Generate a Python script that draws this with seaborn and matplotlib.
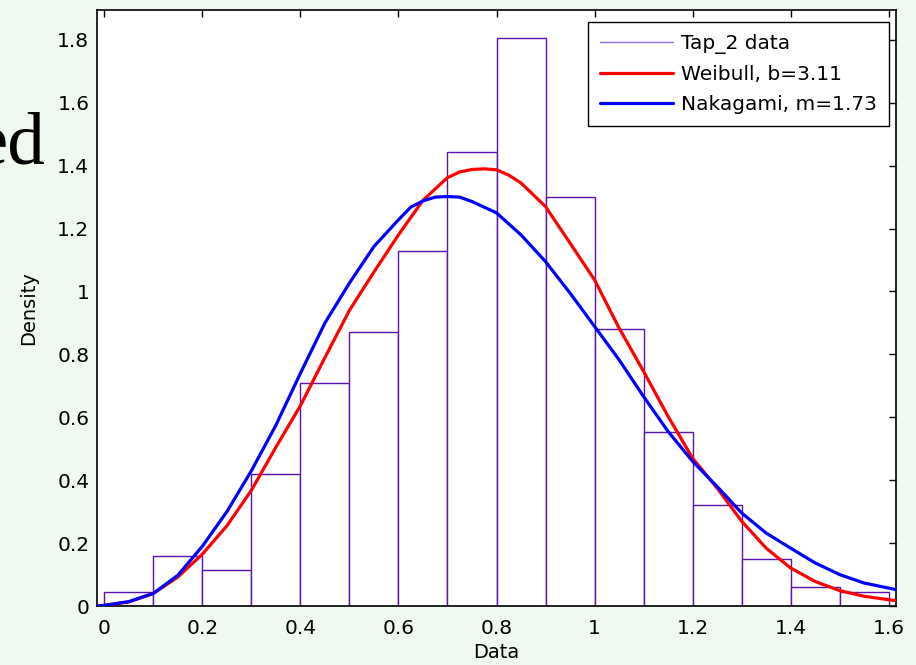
import matplotlib
matplotlib.use("Agg")
import matplotlib.pyplot as plt
import seaborn as sns
import numpy as np
import pandas as pd
from matplotlib.lines import Line2D

# ---- data ----
bin_edges = [0.0, 0.1, 0.2, 0.3, 0.4, 0.5, 0.6, 0.7, 0.8, 0.9, 1.0, 1.1, 1.2, 1.3, 1.4, 1.5, 1.6]
bin_heights = [0.043, 0.160, 0.116, 0.420, 0.709, 0.870, 1.129, 1.445, 1.806, 1.301,
               0.880, 0.553, 0.321, 0.149, 0.060, 0.043]

weibull_x = [-0.015, 0.0, 0.05, 0.1, 0.15, 0.2, 0.25, 0.3, 0.35, 0.4, 0.45, 0.5, 0.55, 0.6,
             0.65, 0.7, 0.725, 0.75, 0.775, 0.8, 0.825, 0.85, 0.9, 0.95, 1.0, 1.05, 1.1, 1.15,
             1.2, 1.25, 1.3, 1.35, 1.4, 1.45, 1.5, 1.55, 1.6, 1.615]
weibull_y = [0.0, 0.002, 0.013, 0.040, 0.092, 0.165, 0.255, 0.368, 0.505, 0.637, 0.790, 0.940,
             1.062, 1.180, 1.290, 1.362, 1.380, 1.388, 1.390, 1.387, 1.370, 1.345, 1.270, 1.154,
             1.037, 0.884, 0.746, 0.603, 0.470, 0.375, 0.270, 0.184, 0.121, 0.078, 0.049, 0.031,
             0.020, 0.017]

nakagami_x = [-0.015, 0.0, 0.05, 0.1, 0.15, 0.2, 0.25, 0.3, 0.35, 0.4, 0.45, 0.5, 0.55, 0.6,
              0.625, 0.65, 0.675, 0.7, 0.725, 0.75, 0.8, 0.85, 0.9, 0.95, 1.0, 1.05, 1.1, 1.15,
              1.2, 1.25, 1.3, 1.35, 1.4, 1.45, 1.5, 1.55, 1.6, 1.615]
nakagami_y = [0.0, 0.002, 0.014, 0.040, 0.098, 0.190, 0.300, 0.430, 0.575, 0.740, 0.900, 1.027,
              1.143, 1.228, 1.268, 1.288, 1.300, 1.302, 1.300, 1.286, 1.250, 1.180, 1.095, 0.995,
              0.889, 0.783, 0.666, 0.555, 0.460, 0.380, 0.296, 0.232, 0.184, 0.137, 0.100, 0.073,
              0.057, 0.052]

x_ticks = [0, 0.2, 0.4, 0.6, 0.8, 1.0, 1.2, 1.4, 1.6]
x_tick_labels = ["0", "0.2", "0.4", "0.6", "0.8", "1", "1.2", "1.4", "1.6"]
y_ticks = [0, 0.2, 0.4, 0.6, 0.8, 1.0, 1.2, 1.4, 1.6, 1.8]
y_tick_labels = ["0", "0.2", "0.4", "0.6", "0.8", "1", "1.2", "1.4", "1.6", "1.8"]

legend_labels = ["Tap_2 data", "Weibull, b=3.11", "Nakagami, m=1.73"]

# ---- style ----
sns.set_style("white")
plt.rcParams["font.family"] = ["DejaVu Sans"]
plt.rcParams["text.color"] = "black"
plt.rcParams["axes.labelcolor"] = "black"
plt.rcParams["xtick.color"] = "black"
plt.rcParams["ytick.color"] = "black"

W, H = 916, 665
bg = "#EFF9EF"
bar_edge = "#5A12B0"
fig = plt.figure(figsize=(W / 100, H / 100), dpi=100, facecolor=bg)
ax = fig.add_axes([97 / W, 1 - 606 / H, (896 - 97) / W, (606 - 10) / H])
ax.set_facecolor("white")

centers = [(bin_edges[i] + bin_edges[i + 1]) / 2 for i in range(len(bin_heights))]
hist_df = pd.DataFrame({"x": centers, "w": bin_heights})
sns.histplot(data=hist_df, x="x", weights="w", bins=bin_edges, stat="count",
             color="white", edgecolor=bar_edge, linewidth=1.0, alpha=1.0, ax=ax, zorder=1)

sns.lineplot(x=weibull_x, y=weibull_y, color="#FF0000", linewidth=2.3, sort=False,
             ax=ax, zorder=3)
sns.lineplot(x=nakagami_x, y=nakagami_y, color="#0000FF", linewidth=2.3, sort=False,
             ax=ax, zorder=4)

ax.set_xlim(-0.015, 1.615)
ax.set_ylim(0, 1.895)
ax.set_xticks(x_ticks)
ax.set_xticklabels(x_tick_labels)
ax.set_yticks(y_ticks)
ax.set_yticklabels(y_tick_labels)
ax.tick_params(axis="both", which="both", direction="in", length=5, width=1,
               labelsize=14.5, top=True, right=True, colors="black", labelcolor="black")
ax.tick_params(axis="x", pad=9)
ax.tick_params(axis="y", pad=5.5)
for s in ax.spines.values():
    s.set_visible(True)
    s.set_color("black")
    s.set_linewidth(1.2)

ax.set_xlabel("Data", fontsize=14, labelpad=4, color="black")
ax.set_ylabel("Density", fontsize=14, labelpad=14, color="black")

handles = [Line2D([], [], color="#9B6FDB", linewidth=1.0),
           Line2D([], [], color="#FF0000", linewidth=2.3),
           Line2D([], [], color="#0000FF", linewidth=2.3)]
leg = ax.legend(handles, legend_labels, loc="upper right",
                bbox_to_anchor=(889 / W, 1 - 22 / H), bbox_transform=fig.transFigure,
                fontsize=14.5, frameon=True, fancybox=False, framealpha=1,
                edgecolor="black", handlelength=3.6, handletextpad=0.4,
                labelspacing=0.55, borderpad=0.6, borderaxespad=0, labelcolor="black")
leg.get_frame().set_linewidth(1.0)

fig.text(45 / W, 1 - 163 / H, "ed", fontsize=54, family="Liberation Serif",
         ha="right", va="baseline", color="black")

fig.savefig("out.png", dpi=100, facecolor=bg)
